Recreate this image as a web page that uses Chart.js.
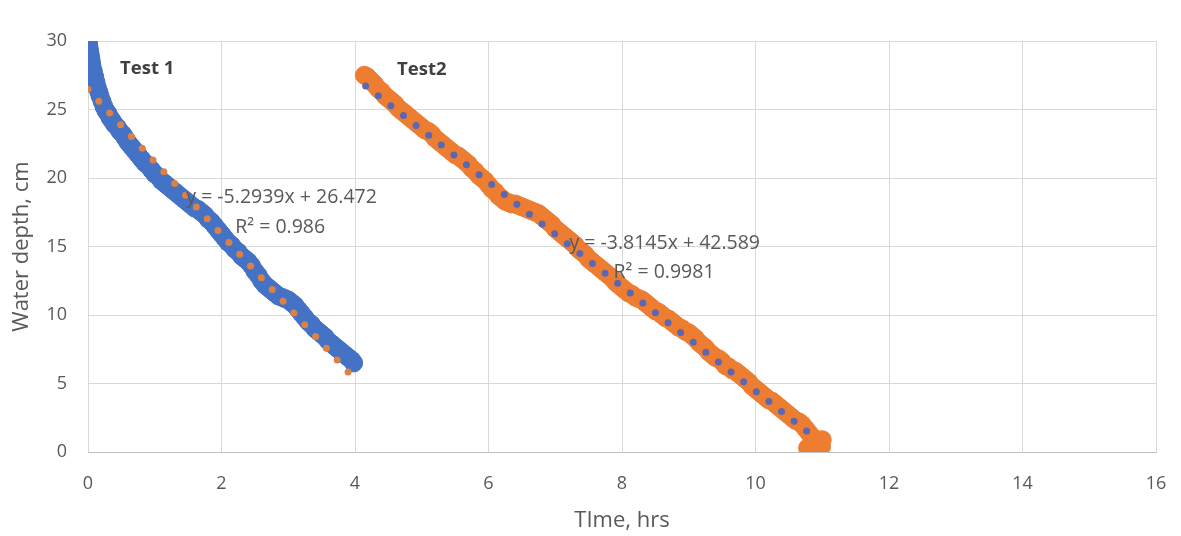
<!DOCTYPE html>
<html>
<head>
<meta charset="utf-8">
<script src="https://cdn.jsdelivr.net/npm/chart.js@4/dist/chart.umd.min.js"></script>
<style>
  html, body { margin: 0; padding: 0; background: #fff; overflow: hidden; }
  #wrap { width: 1181px; height: 536px; }
</style>
</head>
<body>
<div id="wrap"><canvas id="grafico"></canvas></div>
<script>
// Test 1 (curva azul) — tempo em horas / profundidade em cm
const t1Time = [
  0.00, 0.01, 0.02, 0.03, 0.04, 0.05, 0.06, 0.08, 0.10, 0.12, 0.14, 0.16, 0.18, 0.21, 0.24, 0.27,
  0.30, 0.33, 0.36, 0.40, 0.44, 0.48, 0.52, 0.56, 0.60, 0.65, 0.70, 0.75, 0.80, 0.85, 0.90, 0.95,
  1.00, 1.05, 1.10, 1.15, 1.20, 1.25, 1.30, 1.35, 1.40, 1.45, 1.50, 1.55, 1.60, 1.65, 1.70, 1.75,
  1.80, 1.85, 1.90, 1.95, 2.00, 2.05, 2.10, 2.15, 2.20, 2.25, 2.30, 2.35, 2.40, 2.45, 2.50, 2.55,
  2.60, 2.65, 2.70, 2.75, 2.80, 2.85, 2.90, 2.95, 3.00, 3.05, 3.10, 3.15, 3.20, 3.25, 3.30, 3.35,
  3.40, 3.45, 3.50, 3.55, 3.60, 3.65, 3.70, 3.75, 3.80, 3.85, 3.90, 3.95, 3.98
];
const t1Depth = [
  29.9, 29.7, 29.4, 29.1, 28.8, 28.5, 28.2, 27.8, 27.4, 27.0, 26.6, 26.3, 26.0, 25.6, 25.2, 24.9,
  24.7, 24.4, 24.2, 23.9, 23.7, 23.4, 23.2, 22.9, 22.6, 22.3, 22.0, 21.7, 21.4, 21.1, 20.9, 20.6,
  20.3, 20.1, 19.8, 19.6, 19.4, 19.2, 19.0, 18.8, 18.6, 18.4, 18.2, 18.0, 17.8, 17.7, 17.5, 17.3,
  17.0, 16.8, 16.5, 16.2, 15.9, 15.6, 15.3, 15.1, 14.8, 14.6, 14.3, 14.1, 13.9, 13.6, 13.2, 12.9,
  12.5, 12.2, 12.0, 11.8, 11.6, 11.4, 11.3, 11.2, 11.1, 10.9, 10.7, 10.4, 10.1, 9.8, 9.5, 9.3,
  9.0, 8.8, 8.6, 8.4, 8.1, 7.9, 7.7, 7.5, 7.3, 7.1, 6.9, 6.7, 6.5
];

// Test 2 (curva laranja)
const t2Time = [
  4.14, 4.18, 4.22, 4.26, 4.30, 4.35, 4.40, 4.45, 4.50, 4.55, 4.60, 4.65, 4.70, 4.75, 4.80, 4.85,
  4.90, 4.95, 5.00, 5.05, 5.10, 5.15, 5.20, 5.25, 5.30, 5.35, 5.40, 5.45, 5.50, 5.55, 5.60, 5.65,
  5.70, 5.75, 5.80, 5.85, 5.90, 5.95, 6.00, 6.05, 6.10, 6.15, 6.20, 6.25, 6.30, 6.35, 6.40, 6.45,
  6.50, 6.55, 6.60, 6.65, 6.70, 6.75, 6.80, 6.85, 6.90, 6.95, 7.00, 7.05, 7.10, 7.15, 7.20, 7.25,
  7.30, 7.35, 7.40, 7.45, 7.50, 7.55, 7.60, 7.65, 7.70, 7.75, 7.80, 7.85, 7.90, 7.95, 8.00, 8.05,
  8.10, 8.15, 8.20, 8.25, 8.30, 8.35, 8.40, 8.45, 8.50, 8.55, 8.60, 8.65, 8.70, 8.75, 8.80, 8.85,
  8.90, 8.95, 9.00, 9.05, 9.10, 9.15, 9.20, 9.25, 9.30, 9.35, 9.40, 9.45, 9.50, 9.55, 9.60, 9.65,
  9.70, 9.75, 9.80, 9.85, 9.90, 9.95, 10.00, 10.05, 10.10, 10.15, 10.20, 10.25, 10.30, 10.35, 10.40, 10.45,
  10.50, 10.55, 10.60, 10.65, 10.70, 10.75, 10.80, 10.85, 10.90, 10.95, 11.00, 10.78, 10.85, 10.93, 10.99
];
const t2Depth = [
  27.5, 27.4, 27.2, 27.0, 26.8, 26.5, 26.3, 26.0, 25.8, 25.6, 25.4, 25.1, 24.9, 24.7, 24.5, 24.3,
  24.1, 23.9, 23.7, 23.5, 23.4, 23.2, 22.9, 22.7, 22.5, 22.3, 22.1, 21.9, 21.7, 21.6, 21.4, 21.2,
  21.0, 20.7, 20.5, 20.2, 20.0, 19.8, 19.5, 19.2, 19.0, 18.7, 18.5, 18.3, 18.2, 18.1, 18.1, 18.0,
  17.9, 17.8, 17.7, 17.6, 17.5, 17.4, 17.2, 17.0, 16.8, 16.6, 16.3, 16.1, 15.9, 15.7, 15.5, 15.3,
  15.1, 14.8, 14.6, 14.4, 14.1, 13.9, 13.7, 13.5, 13.3, 13.1, 12.9, 12.7, 12.4, 12.2, 12.0, 11.8,
  11.6, 11.5, 11.3, 11.2, 11.1, 10.9, 10.7, 10.5, 10.3, 10.2, 10.0, 9.8, 9.7, 9.5, 9.3, 9.1,
  9.0, 8.8, 8.7, 8.5, 8.3, 8.0, 7.8, 7.6, 7.3, 7.1, 6.9, 6.8, 6.6, 6.3, 6.2, 6.0,
  5.9, 5.7, 5.5, 5.3, 5.1, 4.8, 4.6, 4.4, 4.2, 4.0, 3.8, 3.7, 3.5, 3.3, 3.1, 2.9,
  2.7, 2.5, 2.3, 2.2, 2.0, 1.7, 1.4, 1.1, 0.9, 0.7, 0.9, 0.3, 0.2, 0.3, 0.4
];

// Linhas de tendência (pontas)
const trend1Time  = [0, 3.96];
const trend1Depth = [26.47, 5.51];
const trend2Time  = [4.16, 10.93];
const trend2Depth = [26.72, 0.90];

// Ticks dos eixos
const xTicks = [0, 2, 4, 6, 8, 10, 12, 14, 16];
const yTicks = [0, 5, 10, 15, 20, 25, 30];

const pontos = (xs, ys) => xs.map((x, i) => ({ x, y: ys[i] }));

const CINZA = '#595959';
const FONTE = "'Open Sans', 'Liberation Sans', sans-serif";

// Rótulos e equações escritos no gráfico
const rotulos = {
  id: 'rotulos',
  afterDatasetsDraw(chart) {
    const { ctx, scales: { x, y } } = chart;
    const txt = (s, vx, vy, align, bold) => {
      ctx.font = bold ? 'bold 18.5px ' + FONTE : '19.5px ' + FONTE;
      ctx.fillStyle = bold ? '#404040' : CINZA;
      ctx.textAlign = align;
      ctx.textBaseline = 'middle';
      ctx.fillText(s, x.getPixelForValue(vx), y.getPixelForValue(vy));
    };
    ctx.save();
    txt('Test 1', 0.48, 28.0, 'left', true);
    txt('Test2', 4.63, 27.9, 'left', true);
    txt('y = -5.2939x + 26.472', 2.9, 18.6, 'center');
    txt('R² = 0.986', 2.88, 16.4, 'center');
    txt('y = -3.8145x + 42.589', 8.64, 15.25, 'center');
    txt('R² = 0.9981', 8.63, 13.1, 'center');
    ctx.restore();
  }
};

new Chart(document.getElementById('grafico'), {
  type: 'scatter',
  data: {
    datasets: [
      {
        label: 'Trend Test 1',
        data: pontos(trend1Time, trend1Depth),
        showLine: true,
        borderColor: '#DD8045',
        borderWidth: 7,
        borderDash: [0, 16],
        borderCapStyle: 'round',
        pointRadius: 0,
        order: 0
      },
      {
        label: 'Trend Test 2',
        data: pontos(trend2Time, trend2Depth),
        showLine: true,
        borderColor: '#5B67B3',
        borderWidth: 7,
        borderDash: [0, 16],
        borderCapStyle: 'round',
        pointRadius: 0,
        order: 0
      },
      {
        label: 'Test 1',
        data: pontos(t1Time, t1Depth),
        backgroundColor: '#4472C4',
        borderColor: '#4472C4',
        pointRadius: 9,
        borderWidth: 1,
        order: 1
      },
      {
        label: 'Test2',
        data: pontos(t2Time, t2Depth),
        backgroundColor: '#ED7D31',
        borderColor: '#ED7D31',
        pointRadius: 9,
        borderWidth: 1,
        order: 1
      }
    ]
  },
  options: {
    responsive: true,
    maintainAspectRatio: false,
    animation: false,
    layout: { padding: { top: 41, right: 25, bottom: 0, left: 0 } },
    plugins: {
      legend: { display: false },
      tooltip: { enabled: false }
    },
    scales: {
      x: {
        type: 'linear',
        min: 0, max: 16,
        afterBuildTicks: s => { s.ticks = xTicks.map(v => ({ value: v })); },
        afterFit: s => { s.height = 84; s.paddingLeft = 0; s.paddingRight = 0; },
        grid: { color: '#d9d9d9', drawTicks: false },
        border: { color: '#bfbfbf' },
        ticks: { color: CINZA, font: { size: 18, family: FONTE }, padding: 21 },
        title: { display: true, text: 'TIme, hrs', color: CINZA, font: { size: 22, family: FONTE }, padding: { top: 0, bottom: 2 } }
      },
      y: {
        min: 0, max: 30,
        afterBuildTicks: s => { s.ticks = yTicks.map(v => ({ value: v })); },
        afterFit: s => { s.width = 88; s.paddingTop = 0; s.paddingBottom = 0; },
        grid: { color: '#d9d9d9', drawTicks: false },
        border: { display: false },
        ticks: { color: CINZA, font: { size: 18, family: FONTE }, padding: 21 },
        title: { display: true, text: 'Water depth, cm', color: CINZA, font: { size: 22, family: FONTE }, padding: { top: 9, bottom: 0 } }
      }
    }
  },
  plugins: [rotulos]
});
</script>
</body>
</html>
